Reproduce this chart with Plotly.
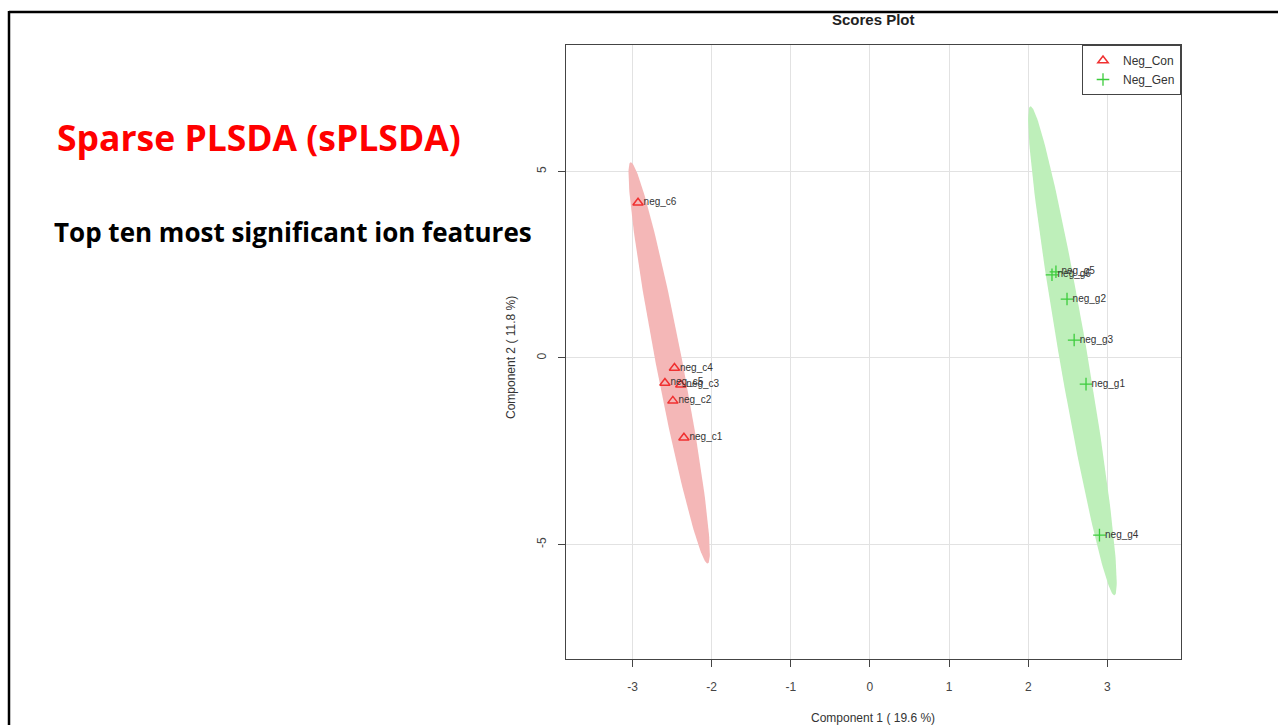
import numpy as np
import plotly.graph_objects as go

# ---- data ----
con_labels = ["neg_c1", "neg_c2", "neg_c3", "neg_c4", "neg_c5", "neg_c6"]
con_x = [-2.35, -2.49, -2.39, -2.47, -2.59, -2.93]
con_y = [-2.14, -1.15, -0.72, -0.27, -0.67, 4.16]

gen_labels = ["neg_g1", "neg_g2", "neg_g3", "neg_g4", "neg_g5", "neg_g6"]
gen_x = [2.73, 2.49, 2.58, 2.90, 2.35, 2.30]
gen_y = [-0.70, 1.58, 0.48, -4.75, 2.31, 2.23]

x_ticks = [-3, -2, -1, 0, 1, 2, 3]
y_ticks = [-5, 0, 5]
x_tick_labels = ["-3", "-2", "-1", "0", "1", "2", "3"]
y_tick_labels = ["-5", "0", "5"]

RED = "#f03030"
GREEN = "#3ccc3c"
RED_FILL = "rgb(244,183,183)"
GREEN_FILL = "rgb(190,239,186)"


def conf_ellipse(x, y, level_chi2=5.991, n=200):
    pts = np.column_stack([x, y])
    c = pts.mean(axis=0)
    cov = np.cov(pts, rowvar=False)
    vals, vecs = np.linalg.eigh(cov)
    t = np.linspace(0, 2 * np.pi, n)
    circ = np.column_stack([np.cos(t), np.sin(t)])
    e = circ * np.sqrt(vals * level_chi2)
    e = e @ vecs.T + c
    return e[:, 0], e[:, 1]


fig = go.Figure()

for xs, ys, fill in [(con_x, con_y, RED_FILL), (gen_x, gen_y, GREEN_FILL)]:
    ex, ey = conf_ellipse(xs, ys)
    fig.add_trace(go.Scatter(x=ex, y=ey, mode="lines", fill="toself",
                             fillcolor=fill, line=dict(width=0),
                             showlegend=False, hoverinfo="skip"))

fig.add_trace(go.Scatter(x=con_x, y=con_y, mode="markers", name="Neg_Con",
                         marker=dict(symbol="triangle-up-open", size=9,
                                     color=RED, line=dict(width=1.5, color=RED))))
fig.add_trace(go.Scatter(x=gen_x, y=gen_y, mode="markers", name="Neg_Gen",
                         marker=dict(symbol="cross-thin-open", size=9,
                                     color=GREEN, line=dict(width=1.3, color=GREEN))))

for xs, ys, labs in [(con_x, con_y, con_labels), (gen_x, gen_y, gen_labels)]:
    fig.add_trace(go.Scatter(x=xs, y=ys, mode="text",
                             text=["\u00a0\u00a0" + s for s in labs],
                             textposition="middle right",
                             textfont=dict(size=10, color="#333333",
                                           family="Liberation Sans"),
                             showlegend=False, hoverinfo="skip"))

axis_common = dict(showgrid=True, gridcolor="#e2e2e2", gridwidth=1,
                   zeroline=False, showline=True, linecolor="#444444",
                   linewidth=1, mirror=True, ticks="outside", ticklen=7,
                   tickcolor="#444444",
                   tickfont=dict(size=12, color="#444444",
                                 family="Liberation Sans"))

fig.update_xaxes(range=[-3.84, 3.93], tickvals=x_ticks, ticktext=x_tick_labels,
                 ticklabelstandoff=10, **axis_common)
fig.update_yaxes(range=[-8.07, 8.39], tickvals=y_ticks, ticktext=y_tick_labels,
                 tickangle=-90, ticklabelstandoff=7, **axis_common)

W, H = 1278, 725
L, R, T, B = 566, 1181, 45, 659
pw, ph = R - L, B - T


def px(xp):
    return (xp - L) / pw


def py(yp):
    return (B - yp) / ph


annotations = [
    dict(text="<b>Scores Plot</b>", x=px(873), y=py(20), xref="paper", yref="paper",
         showarrow=False, font=dict(size=15, color="#222", family="Liberation Sans"),
         xanchor="center", yanchor="middle"),
    dict(text="Component 1 ( 19.6 %)", x=px(873), y=py(718), xref="paper", yref="paper",
         showarrow=False, font=dict(size=12, color="#333", family="Liberation Sans"),
         xanchor="center", yanchor="middle"),
    dict(text="Component 2 ( 11.8 %)", x=px(511), y=py(358), xref="paper", yref="paper",
         showarrow=False, textangle=-90,
         font=dict(size=12, color="#333", family="Liberation Sans"),
         xanchor="center", yanchor="middle"),
    dict(text="<b>Sparse PLSDA (sPLSDA)</b>", x=px(55), y=py(137), xref="paper", yref="paper",
         showarrow=False, font=dict(size=35.5, color="#ff0000", family="Open Sans"),
         xanchor="left", yanchor="middle"),
    dict(text="<b>Top ten most significant ion features</b>", x=px(52), y=py(232),
         xref="paper", yref="paper", showarrow=False,
         font=dict(size=26, color="#000000", family="Open Sans"),
         xanchor="left", yanchor="middle"),
]

shapes = [
    dict(type="line", xref="paper", yref="paper", x0=px(9), x1=px(1290),
         y0=py(12), y1=py(12), line=dict(color="black", width=2.5)),
    dict(type="line", xref="paper", yref="paper", x0=px(9), x1=px(9),
         y0=py(11), y1=py(740), line=dict(color="black", width=2.5)),
]

fig.update_layout(
    width=W, height=H,
    margin=dict(l=L, r=W - R, t=T, b=H - B),
    paper_bgcolor="white", plot_bgcolor="white",
    annotations=annotations, shapes=shapes,
    legend=dict(x=1, y=1, xanchor="right", yanchor="top",
                bordercolor="#444444", borderwidth=1, bgcolor="white",
                font=dict(size=12, color="#333", family="Liberation Sans"),
                tracegroupgap=0, itemwidth=30),
    showlegend=True,
)

fig.write_html("out.html")
